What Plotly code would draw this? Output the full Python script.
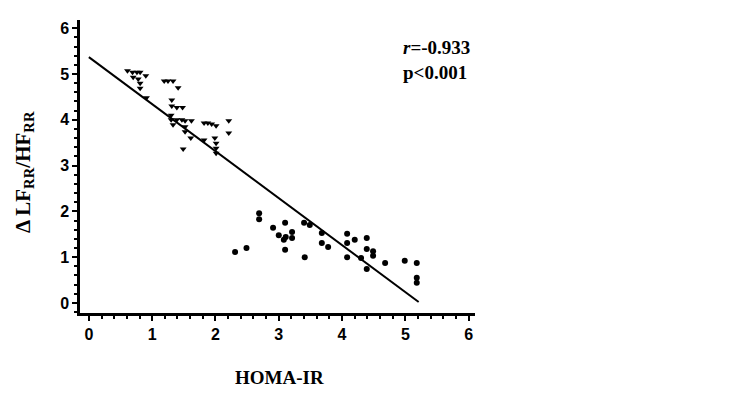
import plotly.graph_objects as go

# high group (inverted triangles)
tri_x = [0.61, 0.69, 0.76, 0.81, 0.90, 0.70, 0.78, 0.81, 0.81, 0.91,
         1.19, 1.25, 1.33, 1.41, 1.31, 1.31, 1.39, 1.48, 1.30, 1.30,
         1.39, 1.47, 1.33, 1.52, 1.62, 1.52, 1.52, 1.61, 1.49, 1.82,
         1.88, 1.94, 2.01, 1.82, 1.99, 2.01, 2.01, 2.01, 2.21, 2.21]
tri_y = [5.07, 5.04, 5.04, 5.04, 4.96, 4.93, 4.89, 4.80, 4.69, 4.48,
         4.85, 4.85, 4.85, 4.70, 4.43, 4.30, 4.27, 4.27, 4.10, 4.00,
         4.00, 4.00, 3.89, 3.98, 3.98, 3.85, 3.74, 3.60, 3.36, 3.93,
         3.93, 3.91, 3.87, 3.56, 3.60, 3.49, 3.38, 3.27, 3.98, 3.71]

# low group (dots)
dot_x = [2.31, 2.49, 2.69, 2.69, 2.91, 3.00, 3.10, 3.08, 3.11, 3.21,
         3.21, 3.10, 3.40, 3.49, 3.41, 3.68, 3.68, 3.78, 4.08, 4.08,
         4.08, 4.20, 4.30, 4.39, 4.39, 4.49, 4.49, 4.39, 4.68, 4.99,
         5.18, 5.18, 5.18]
dot_y = [1.11, 1.20, 1.96, 1.83, 1.64, 1.48, 1.75, 1.38, 1.44, 1.55,
         1.42, 1.16, 1.75, 1.70, 1.00, 1.53, 1.31, 1.22, 1.51, 1.31,
         1.00, 1.38, 0.98, 1.42, 1.18, 1.13, 1.03, 0.74, 0.87, 0.92,
         0.87, 0.55, 0.44]

# fitted line end points
fit_x = [0.0, 5.21]
fit_y = [5.37, 0.02]

fig = go.Figure()
fig.add_trace(go.Scatter(x=fit_x, y=fit_y, mode='lines',
                         line=dict(color='black', width=2), showlegend=False))
fig.add_trace(go.Scatter(x=tri_x, y=tri_y, mode='markers',
                         marker=dict(symbol='triangle-down', size=6, color='black'),
                         showlegend=False))
fig.add_trace(go.Scatter(x=dot_x, y=dot_y, mode='markers',
                         marker=dict(symbol='circle', size=6, color='black'),
                         showlegend=False))

tick_font = dict(family='Liberation Sans Narrow, Liberation Sans, Arial', size=16,
                 color='black', weight='bold')
# inside ticks did not render in this setup, so short outside ticks are used
axis_common = dict(showline=True, linecolor='black', linewidth=2.5,
                   showgrid=False, zeroline=False, ticks='outside', ticklen=5,
                   tickwidth=2, tickcolor='black', tickfont=tick_font,
                   tickmode='linear', tick0=0, dtick=1,
                   minor=dict(ticks='outside', ticklen=3, tickwidth=1.5,
                              tickcolor='black', dtick=0.2, tick0=0, showgrid=False))

fig.update_xaxes(range=[-0.14, 6.1], **axis_common)
fig.update_yaxes(range=[-0.22, 6.18], **axis_common)

# page body adds 8px offset, so the figure is shrunk and shifted to compensate
W, H = 725, 392
L, T, R, B = 72, 12, 258, 87
fig.update_layout(width=W, height=H,
                  plot_bgcolor='white', paper_bgcolor='white',
                  margin=dict(l=L, r=R, t=T, b=B))

pw, ph = W - L - R, H - T - B
def to_paper(px, py):
    # px, py are screen pixels
    return (px - 8 - L) / pw, (H - B - (py - 8)) / ph

serif = 'Liberation Serif, Times New Roman, serif'
ax_x, ax_y = to_paper(24, 172)
fig.add_annotation(x=ax_x, y=ax_y, xref='paper', yref='paper',
                   xanchor='center', yanchor='middle',
                   text='<b>Δ LF<sub>RR</sub>/HF<sub>RR</sub></b>', textangle=-90,
                   showarrow=False, font=dict(family=serif, size=21, color='black'))
hx, hy = to_paper(279, 377)
fig.add_annotation(x=hx, y=hy, xref='paper', yref='paper', showarrow=False,
                   xanchor='center', yanchor='middle',
                   text='<b>HOMA-IR</b>', font=dict(family=serif, size=19, color='black'))
rx, ry = to_paper(401, 60)
fig.add_annotation(x=rx, y=ry, xref='paper', yref='paper', xanchor='left',
                   yanchor='middle', showarrow=False, align='left',
                   text='<b><i>r</i>=-0.933<br>p<0.001</b>',
                   font=dict(family=serif, size=19, color='black'))

fig.write_html("out.html")
